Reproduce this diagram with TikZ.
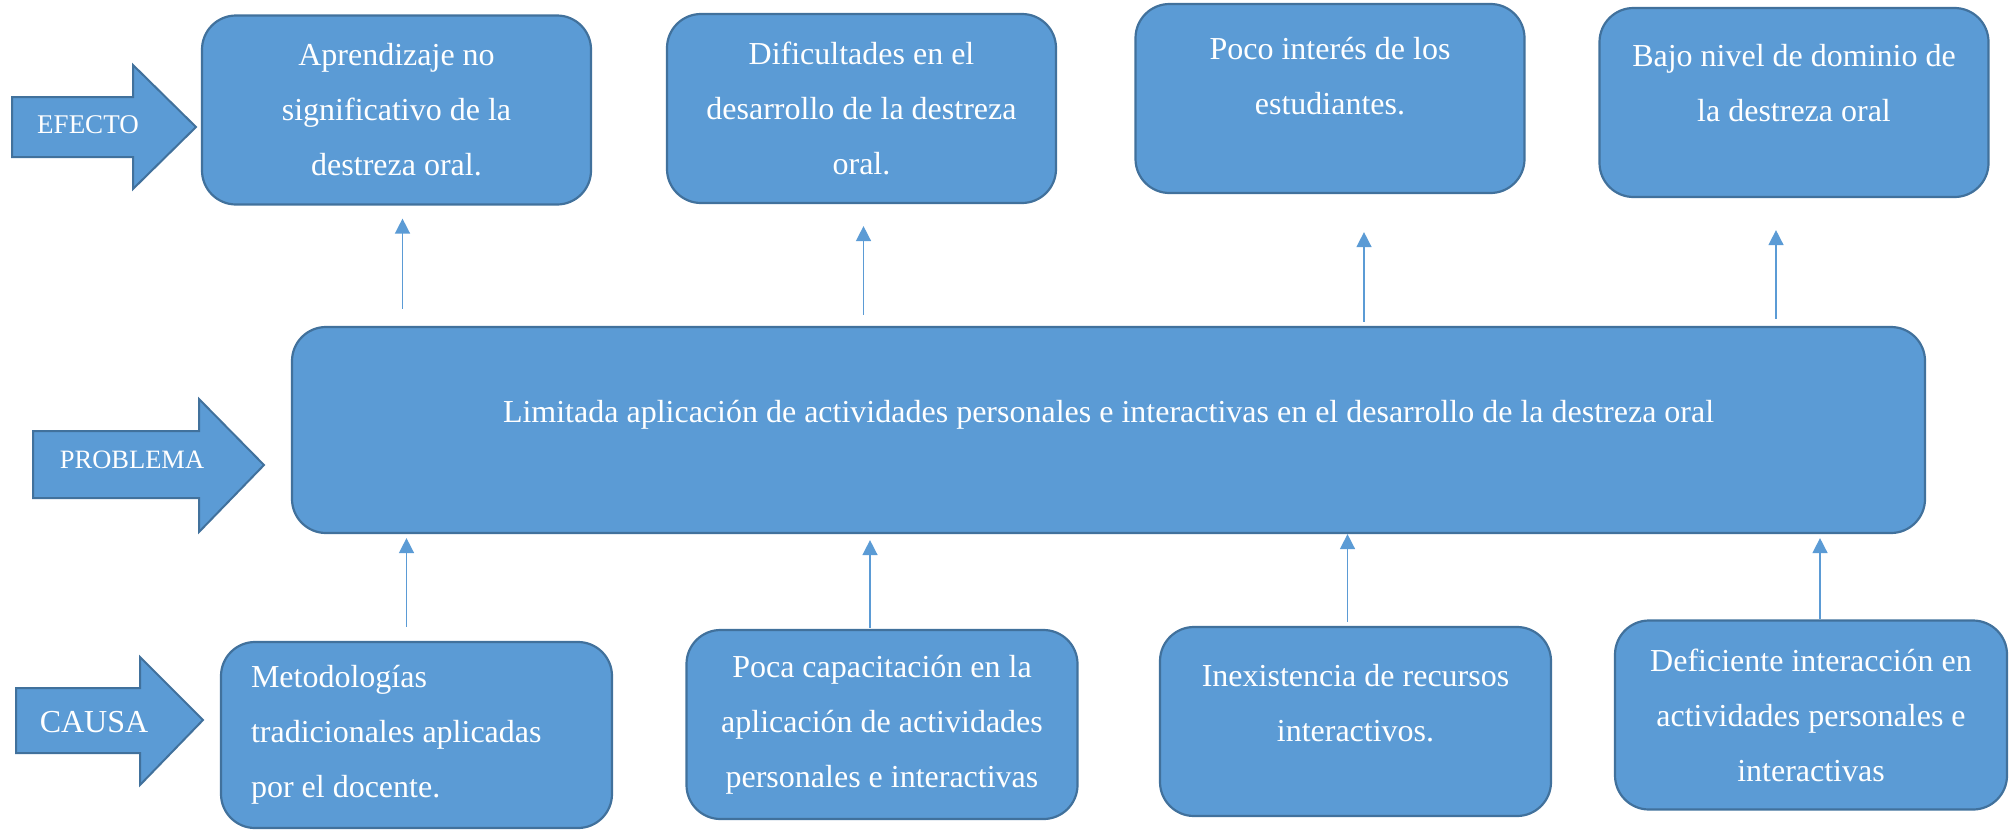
\documentclass[tikz,border=0pt]{standalone}
\usepackage{fontspec}
\setmainfont{Liberation Serif}
\usetikzlibrary{arrows.meta}
\definecolor{arbolfill}{HTML}{5B9BD5}
\definecolor{arbolline}{HTML}{41719C}

\begin{document}
\begin{tikzpicture}[x=1pt,y=-1pt,
    box/.style={draw=arbolline,line width=2.2pt,fill=arbolfill,rounded corners=34pt,
                text=white,align=center,inner sep=0pt,
                font=\fontsize{32}{55}\selectfont},
    effbox/.style={box,minimum width=389pt,minimum height=189pt},
    caubox/.style={box,minimum width=391pt,minimum height=189pt},
    blk/.style={draw=arbolline,line width=2pt,fill=arbolfill,line join=miter},
    lbl/.style={text=white,inner sep=0pt},
    conn/.style={-{Triangle[width=15pt,length=15pt]},arbolfill,line width=1.5pt},
  ]
    \useasboundingbox (0,0) rectangle (2015,830);

    \node[effbox] (e1) at (396.5,110) {Aprendizaje no\\significativo de la\\destreza oral.};
    \node[effbox] (e2) at (861.5,108.5) {Dificultades en el\\desarrollo de la destreza\\oral.};
    \node[effbox] (e3) at (1330,98.5) {Poco interés de los\\estudiantes.\\[-10pt]\mbox{}};
    \node[effbox] (e4) at (1794,102.5) {Bajo nivel de dominio de\\la destreza oral\\[-16pt]\mbox{}};

    \node[box,minimum width=1633pt,minimum height=206pt,text height=23pt,text depth=39pt] (prob) at (1108.5,430)
      {Limitada aplicación de actividades personales e interactivas en el desarrollo de la destreza oral};

    \node[caubox,align=flush left,text width=331pt,minimum height=186pt] (c1) at (416.5,735) {Metodologías\\tradicionales aplicadas\\por el docente.};
    \node[caubox] (c2) at (882,724.5) {Poca capacitación en la\\aplicación de actividades\\personales e interactivas};
    \node[caubox] (c3) at (1355.5,721.5) {Inexistencia de recursos\\interactivos.\\[-18pt]\mbox{}};
    \node[caubox,minimum width=392pt] (c4) at (1811,715) {Deficiente interacción en\\actividades personales e\\interactivas};

    \draw[blk] (12,97) -- (133,97) -- (133,65) -- (196,127) -- (133,189) -- (133,157) -- (12,157) -- cycle;
    \node[lbl,font=\fontsize{27}{30}\selectfont] (efecto) at (88,125) {EFECTO};
    \draw[blk] (33,431) -- (199,431) -- (199,399) -- (264,465) -- (199,532) -- (199,498) -- (33,498) -- cycle;
    \node[lbl,font=\fontsize{26.5}{30}\selectfont] (problema) at (132,460) {PROBLEMA};
    \draw[blk] (16,688) -- (140,688) -- (140,657) -- (203,720) -- (140,785) -- (140,753) -- (16,753) -- cycle;
    \node[lbl,font=\fontsize{32}{36}\selectfont] (causa) at (94,722) {CAUSA};

    \foreach \b/\dx/\s/\e in {e1/6/17/13, e2/2/11/22, e3/34/4/38, e4/-18/7/32}
      \draw[conn,shorten <=\s pt,shorten >=\e pt] ([xshift=\dx pt]prob.north -| \b.south) -- ([xshift=\dx pt]\b.south);
    \foreach \b/\dx/\s/\e in {c1/-10/14/4, c2/-12/1/6, c3/-8/4/0, c4/9/0/4}
      \draw[conn,shorten <=\s pt,shorten >=\e pt] ([xshift=\dx pt]\b.north) -- ([xshift=\dx pt]prob.south -| \b.north);
  \end{tikzpicture}
\end{document}
